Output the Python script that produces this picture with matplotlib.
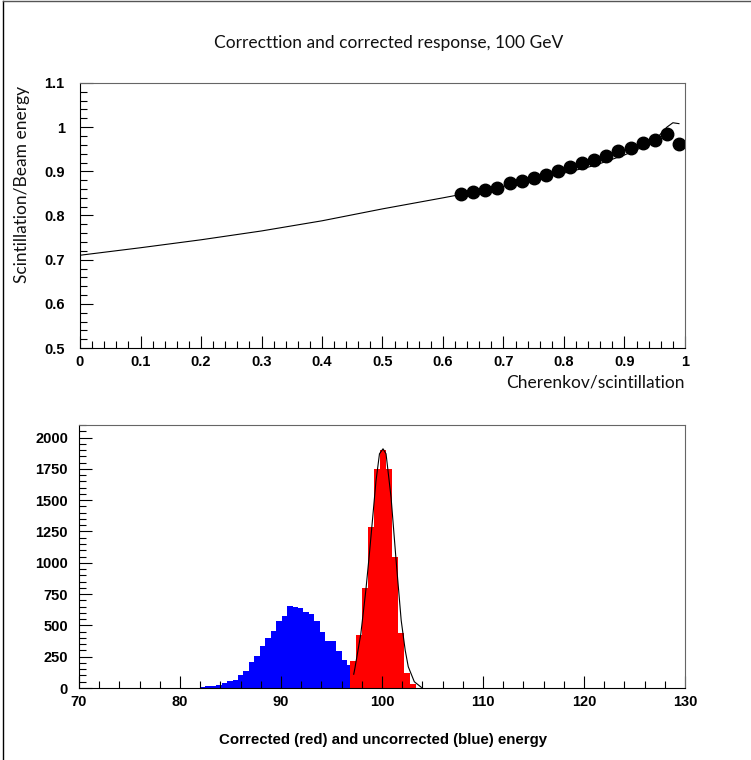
import numpy as np
import matplotlib
matplotlib.use("Agg")
import matplotlib.pyplot as plt
from matplotlib.ticker import MultipleLocator
from matplotlib.lines import Line2D
from matplotlib.font_manager import FontProperties

# datos: respuesta vs Cherenkov/scintillation
pts_x = [0.63, 0.65, 0.67, 0.69, 0.71, 0.73, 0.75, 0.77, 0.79, 0.81,
         0.83, 0.85, 0.87, 0.89, 0.91, 0.93, 0.95, 0.97, 0.99]
pts_y = [0.849, 0.854, 0.858, 0.863, 0.873, 0.879, 0.886, 0.892, 0.901, 0.909,
         0.918, 0.926, 0.935, 0.945, 0.952, 0.964, 0.971, 0.984, 0.961]

# curva de ajuste
fit_x = [0.0, 0.1, 0.2, 0.3, 0.4, 0.5, 0.6, 0.65, 0.7, 0.75, 0.8, 0.85,
         0.9, 0.93, 0.95, 0.96, 0.97, 0.98, 0.99]
fit_y = [0.710, 0.727, 0.745, 0.765, 0.788, 0.815, 0.840, 0.853, 0.866, 0.880,
         0.896, 0.913, 0.937, 0.955, 0.970, 0.985, 1.000, 1.010, 1.008]

# histograma sin corregir (azul)
blue_w = 0.54
blue_x0 = 81.96
blue_n = [8, 13, 18, 27, 37, 53, 64, 106, 138, 207, 252, 332, 398, 456,
          531, 571, 658, 650, 637, 605, 589, 531, 451, 377, 372, 292, 226,
          186, 146, 93, 66, 53, 40, 20, 8]

# histograma corregido (rojo)
red_w = 0.6
red_x0 = 96.8
red_n = [218, 425, 796, 1287, 1751, 1897, 1750, 1048, 438, 120, 30]

# gaussiana ajustada
gaus_x = [97.2, 97.3, 97.9, 98.4, 98.75, 99.1, 99.4, 99.75, 100.1, 100.4,
          100.9, 101.4, 101.9, 102.3, 102.6, 103.2, 103.9]
gaus_y = [110, 150, 430, 780, 1070, 1380, 1650, 1870, 1910, 1870,
          1520, 1015, 540, 300, 170, 50, 5]

fig = plt.figure(figsize=(7.51, 7.6), dpi=100)
fig.add_artist(Line2D([0.004, 0.004], [0, 0.999], color="black", lw=1))
fig.add_artist(Line2D([0.004, 1.0], [0.999, 0.999], color="#555555", lw=1))

thin = dict(family="Lato", fontweight="normal", color="#111111")
tickfont = FontProperties(family="Liberation Sans", weight="bold", size=10.5)


def style_axes(ax):
    for s in ["left", "bottom"]:
        ax.spines[s].set_color("black")
    for s in ["top", "right"]:
        ax.spines[s].set_color("#666666")
    ax.tick_params(which="both", direction="in", top=False, right=False)
    ax.tick_params(which="major", length=9, width=0.8)
    ax.tick_params(which="minor", length=5, width=0.8)
    for lab in ax.get_xticklabels() + ax.get_yticklabels():
        lab.set_fontproperties(tickfont)


# panel superior
ax1 = fig.add_axes([80 / 751, 1 - 348 / 760, 605 / 751, 265 / 760])
ax1.plot(fit_x, fit_y, color="black", lw=0.8)
ax1.plot(pts_x, pts_y, "o", color="black", ms=9)
ax1.set_xlim(0, 1)
ax1.set_ylim(0.5, 1.1)
ax1.xaxis.set_minor_locator(MultipleLocator(0.02))
ax1.yaxis.set_minor_locator(MultipleLocator(0.02))
ax1.set_xticks(np.round(np.arange(0, 1.01, 0.1), 1))
ax1.set_xticklabels(["0", "0.1", "0.2", "0.3", "0.4", "0.5", "0.6", "0.7", "0.8", "0.9", "1"])
ax1.set_yticks(np.round(np.arange(0.5, 1.11, 0.1), 1))
ax1.set_yticklabels(["0.5", "0.6", "0.7", "0.8", "0.9", "1", "1.1"])
style_axes(ax1)
ax1.tick_params(axis="x", pad=5)
ax1.tick_params(axis="y", pad=11)
fig.text(685 / 751, 1 - 383 / 760, "Cherenkov/scintillation", ha="right", va="center",
         size=12.5, **thin)
fig.text(22 / 751, 1 - 184 / 760, "Scintillation/Beam energy", ha="center", va="center",
         rotation=90, size=12.5, **thin)
fig.text(389 / 751, 1 - 43 / 760, "Correcttion and corrected response, 100 GeV",
         ha="center", va="center", size=12.5, **thin)

# panel inferior
ax2 = fig.add_axes([79 / 751, 1 - 688 / 760, 606 / 751, 263 / 760])
blue_edges = blue_x0 + blue_w * np.arange(len(blue_n) + 1)
red_edges = red_x0 + red_w * np.arange(len(red_n) + 1)
ax2.stairs(blue_n, blue_edges, fill=True, color="#0000ff", lw=0)
ax2.stairs(red_n, red_edges, fill=True, color="#ff0000", lw=0)
ax2.plot(gaus_x, gaus_y, color="black", lw=0.8)
ax2.set_xlim(70, 130)
ax2.set_ylim(0, 2100)
ax2.xaxis.set_major_locator(MultipleLocator(10))
ax2.xaxis.set_minor_locator(MultipleLocator(2))
ax2.yaxis.set_major_locator(MultipleLocator(250))
ax2.yaxis.set_minor_locator(MultipleLocator(50))
style_axes(ax2)
ax2.tick_params(axis="x", pad=5)
ax2.tick_params(axis="y", pad=8)
fig.text(383 / 751, 1 - 740 / 760, "Corrected (red) and uncorrected (blue) energy",
         ha="center", va="center", size=10.8, family="Liberation Sans", weight="bold")

fig.savefig("out.png", dpi=100)
